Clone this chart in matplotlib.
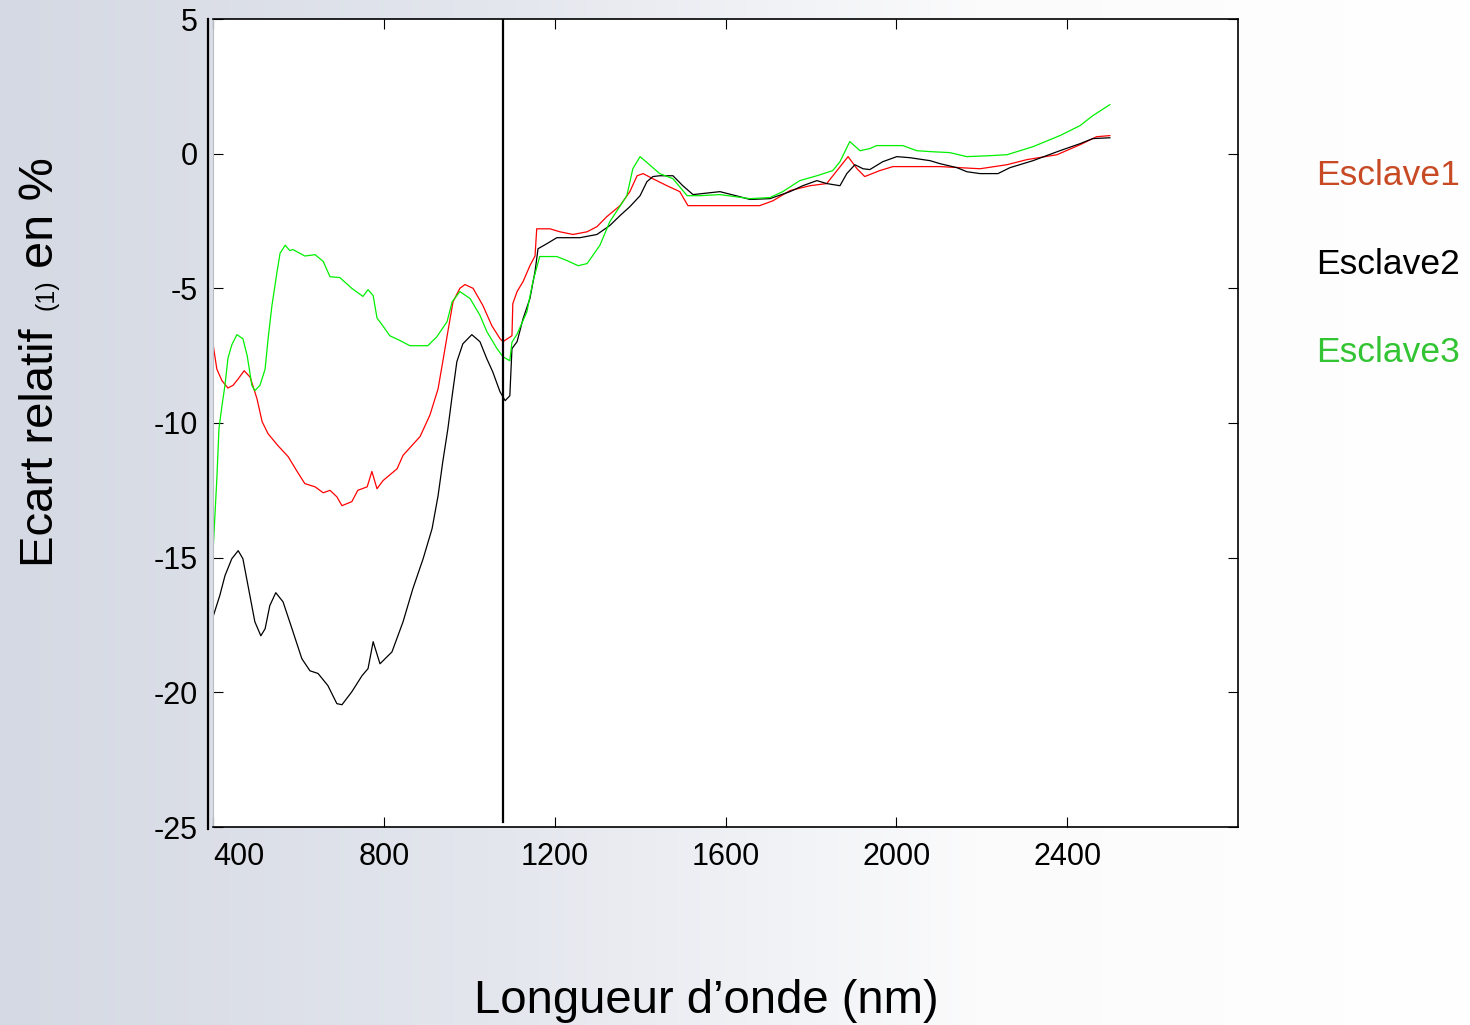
import matplotlib
matplotlib.use("Agg")
import matplotlib.pyplot as plt
import numpy as np
from matplotlib.colors import LinearSegmentedColormap
from matplotlib.lines import Line2D

plt.rcParams["font.family"] = ["Liberation Sans", "DejaVu Sans"]
plt.rcParams["axes.unicode_minus"] = False

# wavelength (nm) / relative deviation (%)
nm_esclave1 = [400, 409, 421, 435, 447, 459, 473, 487, 503, 515, 529, 552, 576, 597, 615, 639,
               658, 674, 690, 702, 725, 739, 761, 772, 784, 798, 831, 845, 885, 908, 927, 938,
               950, 962, 978, 990, 1009, 1032, 1053, 1072, 1079, 1100, 1102, 1112, 1126, 1142,
               1154, 1158, 1189, 1212, 1243, 1276, 1299, 1322, 1353, 1376, 1393, 1407, 1430,
               1463, 1493, 1512, 1571, 1680, 1711, 1751, 1798, 1837, 1861, 1887, 1908, 1926,
               1961, 1992, 2102, 2196, 2259, 2306, 2376, 2430, 2469, 2500]
val_esclave1 = [-7.06, -8.0, -8.43, -8.7, -8.6, -8.36, -8.06, -8.3, -9.1, -9.95, -10.4, -10.84,
                -11.25, -11.8, -12.25, -12.37, -12.59, -12.5, -12.74, -13.07, -12.92, -12.5,
                -12.37, -11.8, -12.44, -12.14, -11.7, -11.2, -10.5, -9.7, -8.73, -7.72, -6.6,
                -5.5, -5.0, -4.86, -5.0, -5.64, -6.39, -6.87, -6.98, -6.76, -5.57, -5.12, -4.75,
                -4.16, -3.8, -2.79, -2.79, -2.9, -3.0, -2.9, -2.71, -2.34, -1.93, -1.41, -0.82,
                -0.74, -0.93, -1.19, -1.41, -1.93, -1.93, -1.93, -1.75, -1.37, -1.19, -1.11,
                -0.63, -0.11, -0.56, -0.85, -0.63, -0.48, -0.48, -0.56, -0.41, -0.22, -0.04,
                0.33, 0.63, 0.67]

nm_esclave2 = [400, 416, 428, 444, 459, 470, 482, 498, 512, 522, 533, 547, 564, 585, 608, 627,
               646, 669, 690, 702, 725, 749, 763, 775, 791, 819, 845, 868, 892, 913, 927, 938,
               950, 960, 971, 985, 1006, 1025, 1041, 1055, 1072, 1084, 1095, 1100, 1112, 1126,
               1142, 1154, 1161, 1182, 1205, 1259, 1299, 1329, 1353, 1376, 1400, 1416, 1430,
               1446, 1477, 1500, 1524, 1587, 1634, 1657, 1704, 1751, 1781, 1814, 1837, 1868,
               1884, 1903, 1922, 1938, 1968, 2001, 2032, 2079, 2102, 2142, 2165, 2196, 2238,
               2266, 2320, 2383, 2430, 2460, 2500]
val_esclave2 = [-17.2, -16.4, -15.67, -15.04, -14.74, -15.04, -16.04, -17.38, -17.9, -17.64,
                -16.78, -16.3, -16.64, -17.64, -18.75, -19.2, -19.3, -19.75, -20.42, -20.46,
                -19.98, -19.38, -19.12, -18.12, -18.94, -18.5, -17.38, -16.15, -15.04, -13.92,
                -12.7, -11.44, -10.21, -8.99, -7.72, -7.06, -6.72, -6.98, -7.61, -8.1, -8.84,
                -9.17, -8.99, -7.24, -6.98, -6.13, -5.38, -4.38, -3.53, -3.34, -3.12, -3.12,
                -3.0, -2.67, -2.3, -1.97, -1.56, -1.04, -0.85, -0.82, -0.82, -1.19, -1.52,
                -1.41, -1.6, -1.7, -1.67, -1.41, -1.19, -1.0, -1.11, -1.19, -0.74, -0.41, -0.56,
                -0.59, -0.3, -0.11, -0.15, -0.26, -0.37, -0.52, -0.67, -0.74, -0.74, -0.52,
                -0.26, 0.11, 0.37, 0.56, 0.59]

nm_esclave3 = [400, 409, 414, 421, 428, 435, 444, 456, 470, 480, 491, 498, 510, 522, 529, 538,
               550, 557, 569, 580, 587, 615, 639, 658, 674, 697, 725, 751, 763, 775, 784, 798,
               814, 838, 861, 903, 924, 948, 960, 978, 1002, 1025, 1041, 1065, 1079, 1095, 1100,
               1112, 1135, 1149, 1165, 1205, 1229, 1255, 1276, 1306, 1329, 1369, 1383, 1400,
               1446, 1477, 1510, 1540, 1587, 1657, 1704, 1734, 1774, 1814, 1851, 1868, 1891,
               1915, 1938, 1954, 2015, 2048, 2086, 2125, 2165, 2212, 2259, 2320, 2383, 2430,
               2460, 2500]
val_esclave3 = [-14.8, -12.07, -10.2, -9.36, -8.6, -7.6, -7.1, -6.72, -6.87, -7.5, -8.6, -8.8,
                -8.6, -8.0, -6.87, -5.64, -4.38, -3.7, -3.4, -3.6, -3.56, -3.8, -3.75, -4.0,
                -4.57, -4.6, -5.0, -5.3, -5.05, -5.27, -6.1, -6.4, -6.76, -6.94, -7.13, -7.13,
                -6.8, -6.24, -5.5, -5.12, -5.38, -6.0, -6.6, -7.24, -7.54, -7.69, -7.0, -6.7,
                -5.87, -4.75, -3.82, -3.82, -3.97, -4.16, -4.08, -3.4, -2.53, -1.56, -0.56,
                -0.11, -0.74, -0.93, -1.56, -1.56, -1.52, -1.67, -1.63, -1.41, -1.0, -0.82,
                -0.63, -0.3, 0.45, 0.11, 0.19, 0.3, 0.3, 0.11, 0.07, 0.04, -0.11, -0.08, -0.04,
                0.26, 0.67, 1.04, 1.41, 1.82]

marker_nm = 1080
x_ticks = [400, 800, 1200, 1600, 2000, 2400]
y_ticks = [5, 0, -5, -10, -15, -20, -25]

series = [
    ("Esclave1", nm_esclave1, val_esclave1, "#ff0000", "#c84a24"),
    ("Esclave2", nm_esclave2, val_esclave2, "#000000", "#000000"),
    ("Esclave3", nm_esclave3, val_esclave3, "#00f000", "#33c433"),
]

W, H = 1470, 1025
fig = plt.figure(figsize=(W / 100, H / 100), dpi=100)

# slide background: bluish grey fading to white
bg = fig.add_axes([0, 0, 1, 1], zorder=-10)
bg.axis("off")
cmap = LinearSegmentedColormap.from_list("bg", ["#d5d9e3", "#e3e6ed", "#fbfbfc", "#ffffff"])
bg.imshow(np.linspace(0, 1, 256).reshape(1, -1), aspect="auto", cmap=cmap,
          extent=[0, 1, 0, 1])

ax = fig.add_axes([213 / W, 1 - 827 / H, 1025 / W, 808 / H])
for name, xs, ys, lc, _ in series:
    ax.plot(xs, ys, color=lc, lw=0.9)
ax.plot([marker_nm, marker_nm], [-24.8, 5], color="black", lw=1.6)

ax.set_xlim(400, 2800)
ax.set_ylim(-25, 5)
ax.set_xticks(x_ticks)
ax.set_yticks(y_ticks)
ax.tick_params(direction="in", length=7, width=0.8, top=True, right=True,
               labelsize=22, pad=11)
ax.get_xticklabels()[0].set_horizontalalignment("left")
for s in ["top", "right", "bottom"]:
    ax.spines[s].set_linewidth(1.2)
ax.spines["left"].set_color("#b8bcc6")

# dark left rule set slightly apart from the frame
fig.add_artist(Line2D([208 / W, 208 / W], [1 - 829 / H, 1 - 19 / H],
                      transform=fig.transFigure, color="black", lw=1.6))

# series labels on the right
for (name, _, _, _, tc), yb in zip(series, [185, 274, 362]):
    fig.text(1316 / W, 1 - yb / H, name, color=tc, fontsize=25.5,
             ha="left", va="baseline")

fig.text(706 / W, 1 - 1013 / H, "Longueur d\u2019onde (nm)", fontsize=34,
         ha="center", va="baseline")

# y label built from pieces so "(1)" can be smaller
renderer = fig.canvas.get_renderer()
y_pos = H - 567
for text, fs, gap in [("Ecart relatif", 34, 18), ("(1)", 18, 12), ("en %", 35, 0)]:
    t = fig.text(53 / W, y_pos / H, text, fontsize=fs, rotation=90,
                 rotation_mode="anchor", ha="left", va="baseline")
    y_pos += t.get_window_extent(renderer).height + gap

fig.savefig("out.png", dpi=100)
